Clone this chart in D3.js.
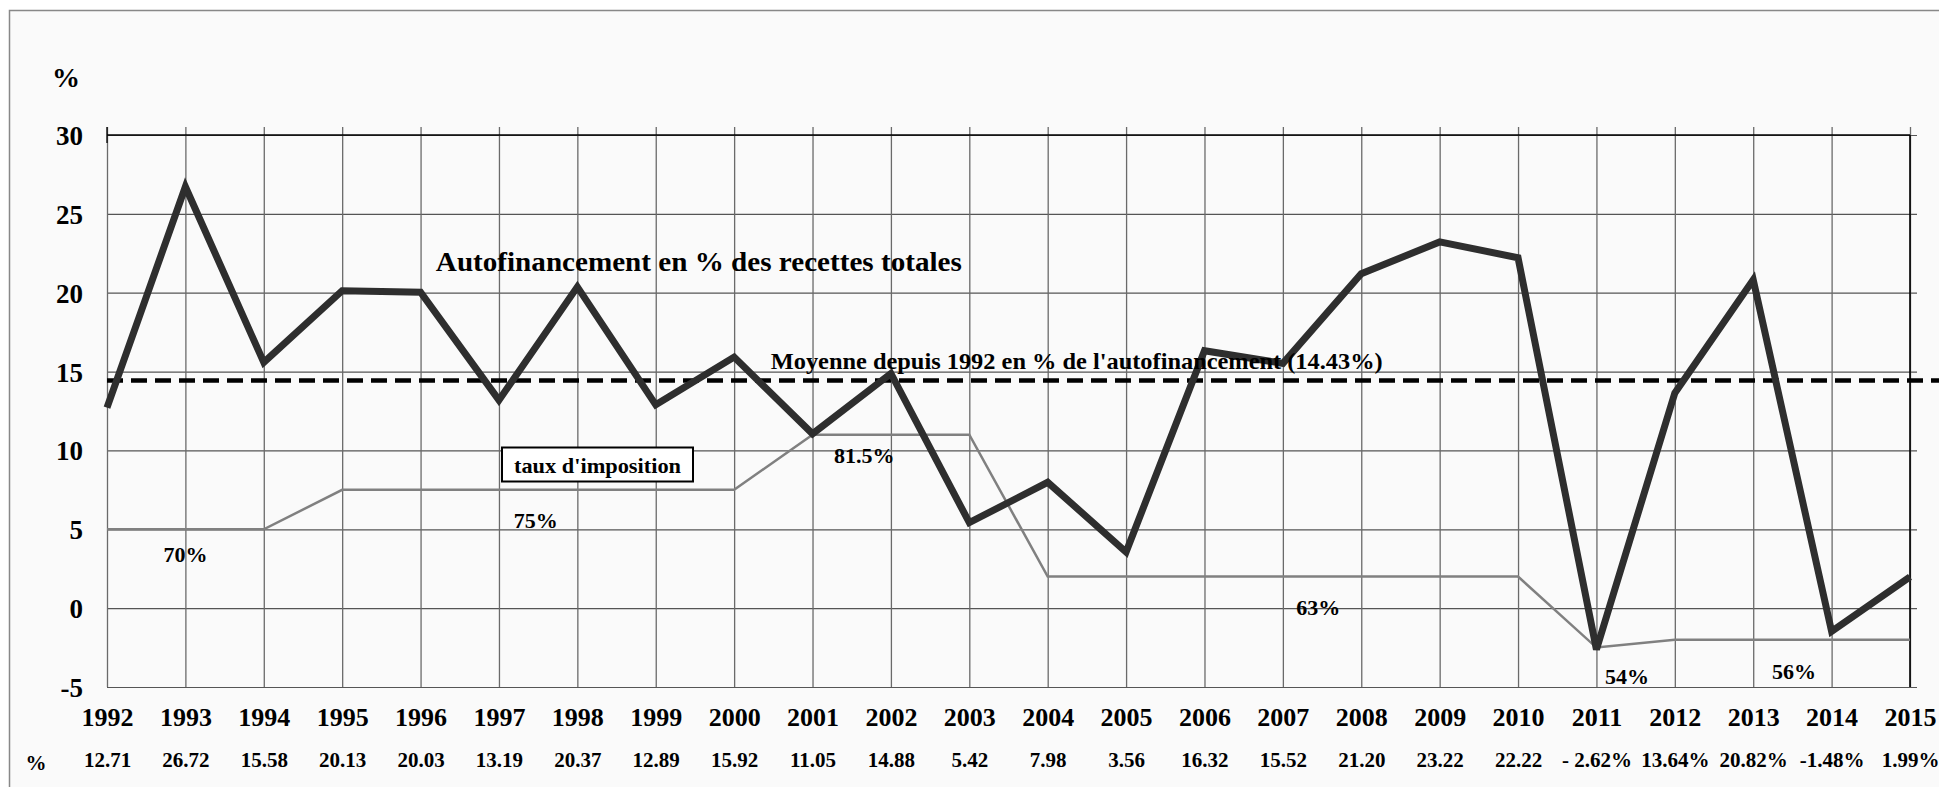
<!DOCTYPE html>
<html>
<head>
<meta charset="utf-8">
<script src="https://cdn.jsdelivr.net/npm/d3@7"></script>
<style>
  body { margin: 0; background: #fff; }
  svg text { font-family: "Liberation Serif", "Times New Roman", serif; font-weight: bold; fill: #000; }
</style>
</head>
<body>
<script>
// data
const years = d3.range(1992, 2016);
const autofin = [12.71, 26.72, 15.58, 20.13, 20.03, 13.19, 20.37, 12.89, 15.92, 11.05, 14.88, 5.42,
                 7.98, 3.56, 16.32, 15.52, 21.20, 23.22, 22.22, -2.62, 13.64, 20.82, -1.48, 1.99];
const valueLabels = ["12.71", "26.72", "15.58", "20.13", "20.03", "13.19", "20.37", "12.89", "15.92",
                     "11.05", "14.88", "5.42", "7.98", "3.56", "16.32", "15.52", "21.20", "23.22",
                     "22.22", "- 2.62%", "13.64%", "20.82%", "-1.48%", "1.99%"];
// tax rate curve, drawn in chart units
const taxCurve = [5, 5, 5, 7.5, 7.5, 7.5, 7.5, 7.5, 7.5, 11, 11, 11, 2, 2, 2, 2, 2, 2, 2, -2.5, -2, -2, -2, -2];
const taxLabels = [
  {text: "70%", year: 1993.0, v: 2.9},
  {text: "75%", year: 1997.47, v: 5.07},
  {text: "81.5%", year: 2001.66, v: 9.2},
  {text: "63%", year: 2007.45, v: -0.44},
  {text: "54%", year: 2011.39, v: -4.8},
  {text: "56%", year: 2013.52, v: -4.5}
];
const yTicks = [-5, 0, 5, 10, 15, 20, 25, 30];
const average = 14.43;

const W = 1939, H = 787;
const svg = d3.select("body").append("svg").attr("width", W).attr("height", H);

// frame
svg.append("rect").attr("x", 9.5).attr("y", 10.5).attr("width", W).attr("height", H)
  .attr("fill", "#fafafa").attr("stroke", "#888").attr("stroke-width", 1.5);

const x = d3.scaleLinear().domain([1992, 2015]).range([107, 1910]);
const y = d3.scaleLinear().domain([-5, 30]).range([687, 135]);

// horizontal grid + y labels (plain hyphen for negatives, like the original)
const yAxis = svg.append("g").attr("transform", "translate(107,0)")
  .call(d3.axisLeft(y).tickValues(yTicks).tickSize(-(1917 - 107)).tickPadding(24).tickFormat(d => String(d)));
yAxis.select(".domain").remove();
yAxis.selectAll(".tick line").attr("stroke", "#555").attr("stroke-width", 1.2);
yAxis.selectAll(".tick text").style("font-size", "27px").attr("dy", "0.35em");

// vertical grid + year labels
const xAxis = svg.append("g").attr("transform", "translate(0,687)")
  .call(d3.axisBottom(x).tickValues(years).tickSize(-(687 - 127)).tickPadding(21).tickFormat(d => String(d)));
xAxis.select(".domain").remove();
xAxis.selectAll(".tick line").attr("stroke", "#6a6a6a").attr("stroke-width", 1.3);
xAxis.selectAll(".tick text").style("font-size", "26px");

// value row under the years
const vAxis = svg.append("g").attr("transform", "translate(0,752)")
  .call(d3.axisBottom(x).tickValues(years).tickSize(0).tickPadding(0).tickFormat((d, i) => valueLabels[i]));
vAxis.select(".domain").remove();
vAxis.selectAll(".tick text").style("font-size", "21px");
svg.append("text").attr("x", 36).attr("y", 770).attr("text-anchor", "middle").style("font-size", "21px").text("%");

// top line, left tick, right border
svg.append("line").attr("x1", 107).attr("x2", 1910).attr("y1", y(30)).attr("y2", y(30))
  .attr("stroke", "#000").attr("stroke-width", 1.6);
svg.append("line").attr("x1", 107).attr("x2", 107).attr("y1", 127).attr("y2", 143)
  .attr("stroke", "#000").attr("stroke-width", 1.3);
svg.append("line").attr("x1", x(2015)).attr("x2", x(2015)).attr("y1", y(30)).attr("y2", y(-5))
  .attr("stroke", "#000").attr("stroke-width", 1.6);

// "%" unit label
svg.append("text").attr("x", 66).attr("y", 87).attr("text-anchor", "middle").style("font-size", "28px").text("%");

// tax rate line
svg.append("path").datum(taxCurve)
  .attr("d", d3.line().x((d, i) => x(years[i])).y(d => y(d)))
  .attr("fill", "none").attr("stroke", "#808080").attr("stroke-width", 2.5);

// average dashed line
svg.append("line").attr("x1", x(1992)).attr("x2", W).attr("y1", y(average)).attr("y2", y(average))
  .attr("stroke", "#000").attr("stroke-width", 4.5).attr("stroke-dasharray", "16,8");

// autofinancement line
svg.append("path").datum(autofin)
  .attr("d", d3.line().x((d, i) => x(years[i])).y(d => y(d)))
  .attr("fill", "none").attr("stroke", "#2e2e2e").attr("stroke-width", 7).attr("stroke-linejoin", "miter");

// annotations
svg.append("text").attr("x", x(1999.55)).attr("y", y(21.37)).attr("text-anchor", "middle")
  .attr("textLength", 526).attr("lengthAdjust", "spacingAndGlyphs")
  .style("font-size", "28px").text("Autofinancement en % des recettes totales");
svg.append("text").attr("x", x(2004.37)).attr("y", y(15.15)).attr("text-anchor", "middle")
  .attr("textLength", 612).attr("lengthAdjust", "spacingAndGlyphs")
  .style("font-size", "24px").text("Moyenne depuis 1992 en %  de l'autofinancement (14.43%)");

svg.selectAll(".taxlab").data(taxLabels).enter().append("text")
  .attr("class", "taxlab")
  .attr("x", d => x(d.year)).attr("y", d => y(d.v)).attr("text-anchor", "middle")
  .style("font-size", "22px").text(d => d.text);

// boxed legend
svg.append("rect").attr("x", 502).attr("y", 447.5).attr("width", 191).attr("height", 34)
  .attr("fill", "#fff").attr("stroke", "#000").attr("stroke-width", 2);
svg.append("text").attr("x", 597.5).attr("y", 473).attr("text-anchor", "middle")
  .attr("textLength", 167).attr("lengthAdjust", "spacingAndGlyphs")
  .style("font-size", "22px").text("taux d'imposition");
</script>
</body>
</html>
